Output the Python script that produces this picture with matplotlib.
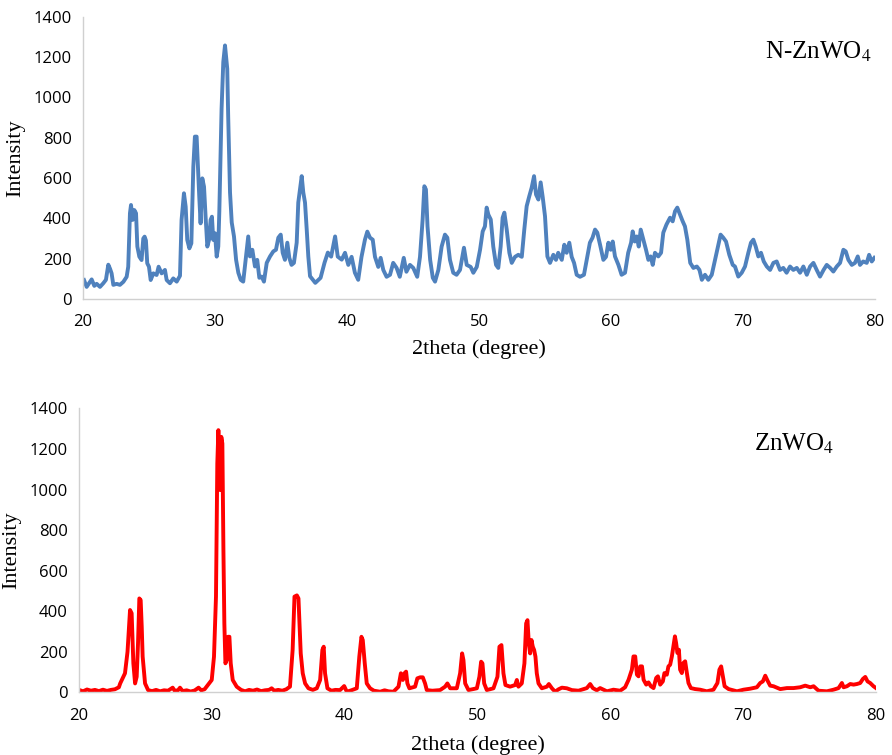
import matplotlib
matplotlib.use('Agg')
import matplotlib.pyplot as plt

# N-ZnWO4 pattern (2theta, intensity)
n_theta = [20.08, 20.28, 20.48, 20.66, 20.86, 21.04, 21.29, 21.54, 21.74, 21.92,
           22.05, 22.17, 22.3, 22.55, 22.8, 23.06, 23.31, 23.43, 23.56, 23.64,
           23.76, 23.89, 24.02, 24.12, 24.27, 24.44, 24.57, 24.67, 24.77, 24.87,
           25.0, 25.13, 25.33, 25.58, 25.73, 25.96, 26.21, 26.34, 26.59, 26.84,
           27.1, 27.35, 27.47, 27.65, 27.78, 27.9, 28.06, 28.21, 28.36, 28.48,
           28.61, 28.71, 28.81, 28.91, 29.04, 29.17, 29.29, 29.42, 29.55, 29.67,
           29.77, 29.87, 30.0, 30.13, 30.25,
           30.33, 30.5, 30.63, 30.76, 30.93, 31.0, 31.14, 31.27, 31.44, 31.6,
           31.77, 31.95, 32.14, 32.35, 32.52, 32.65, 32.83, 33.03, 33.2, 33.36,
           33.54, 33.71, 33.92, 34.17, 34.42, 34.62, 34.8, 34.98, 35.13, 35.3,
           35.48, 35.63, 35.8, 35.98, 36.19, 36.31, 36.44, 36.57, 36.69, 36.82,
           36.95, 37.07, 37.2, 37.6, 38.0, 38.3, 38.55, 38.8, 39.1, 39.3, 39.6,
           39.85, 40.1, 40.35, 40.6, 40.85, 41.1, 41.36, 41.54, 41.74, 41.95,
           42.12, 42.37, 42.55, 42.75, 43.0, 43.26, 43.5, 43.76, 44.0, 44.3,
           44.5, 44.77, 45.02, 45.32, 45.53, 45.73, 45.86, 45.98, 46.1, 46.3,
           46.5, 46.67, 46.92, 47.17, 47.42, 47.6, 47.8, 48.05, 48.3, 48.56,
           48.86, 49.07, 49.37, 49.57,
           49.83, 50.08, 50.28, 50.45, 50.58, 50.71, 50.89, 51.08, 51.29, 51.46,
           51.64, 51.79, 51.92, 52.1, 52.3, 52.48, 52.73, 52.98, 53.24, 53.43,
           53.61, 53.81, 53.99, 54.17, 54.32, 54.5, 54.67, 54.83, 55.0, 55.18,
           55.38, 55.63, 55.83, 56.0, 56.27, 56.46, 56.64, 56.84, 57.02, 57.2,
           57.4, 57.65, 57.95, 58.16, 58.4, 58.6, 58.79, 58.96,
           59.17, 59.42, 59.62, 59.8, 59.98, 60.13, 60.3, 60.56, 60.8, 61.06,
           61.3, 61.52, 61.64, 61.8, 61.95, 62.1, 62.25, 62.45, 62.65, 62.83,
           63.0, 63.16, 63.33, 63.58, 63.79, 63.96, 64.2, 64.47, 64.67, 64.85,
           65.02, 65.23, 65.43, 65.6, 65.78, 66.0, 66.24, 66.5, 66.7, 66.88,
           67.12, 67.37, 67.63, 67.88, 68.13, 68.3, 68.5, 68.71, 68.96, 69.22,
           69.39, 69.64, 69.9, 70.15, 70.4, 70.6, 70.78, 70.96, 71.16, 71.36,
           71.57, 71.8, 72.05, 72.3, 72.55, 72.8, 73.05, 73.3, 73.56, 73.81,
           74.07, 74.32, 74.57, 74.83, 75.08, 75.33, 75.58, 75.83, 76.1, 76.34,
           76.6, 76.84, 77.1, 77.35, 77.6, 77.78, 77.98, 78.24, 78.48, 78.69,
           78.86, 79.1, 79.37, 79.55, 79.75, 79.95]
n_counts = [94, 60, 80, 97, 65, 75, 60, 78, 95, 170,
            150, 127, 70, 75, 70, 85, 110, 160, 425, 466,
            392, 441, 425, 260, 210, 193, 300, 309, 290, 177,
            160, 94, 127, 119, 160, 127, 144, 94, 78, 102,
            86, 115, 392, 524, 458, 293, 251, 276, 656, 805,
            805, 656, 507, 375, 598, 557, 408, 260, 293, 392,
            408, 293, 326, 210, 260,
            435, 942, 1175, 1257, 1141, 908, 528, 379, 310, 194,
            130, 95, 86, 211, 310, 211, 244, 161, 194, 105,
            111, 86, 179, 211, 236, 244, 304, 319, 229, 194,
            279, 204, 169, 179, 279, 478, 543, 609, 528, 478,
            344, 211, 113, 80, 105, 180, 230, 210, 310, 210, 195,
            229, 169, 209, 130, 95, 209, 294, 334, 304, 294,
            209, 159, 204, 144, 110, 120, 179, 154, 110, 204,
            135, 169, 154, 110, 209, 394, 559, 543, 360, 194,
            105, 86, 144, 260, 319, 304, 194, 130, 120, 144,
            254, 169, 159, 130,
            159, 244, 335, 360, 453, 418, 394, 260, 169, 154,
            260, 403, 428, 344, 229, 179, 209, 219, 209, 344,
            460, 510, 552, 609, 518, 493, 578, 503, 410, 211,
            179, 219, 194, 229, 194, 269, 229, 279, 209, 179,
            120, 110, 120, 194, 279, 304, 344, 329,
            269, 194, 209, 279, 244, 285, 211, 169, 120, 130,
            229, 279, 335, 285, 310, 260, 344, 294, 244, 194,
            211, 169, 229, 211, 229, 329, 369, 403, 385, 435,
            453, 418, 385, 360, 294, 179, 154, 161, 144, 95,
            120, 95, 120, 194, 269, 319, 304, 285, 219, 169,
            161, 111, 130, 161, 229, 279, 294, 260, 211, 229,
            186, 161, 144, 179, 186, 144, 154, 130, 161, 144,
            154, 130, 161, 120, 161, 179, 144, 111, 144, 169,
            154, 136, 161, 179, 244, 236, 194, 169, 179, 211,
            169, 186, 179, 219, 186, 204]

# ZnWO4 pattern (2theta, intensity)
z_theta = [20.0, 20.3, 20.6, 20.9, 21.2, 21.5, 21.8, 22.1, 22.4, 22.7,
           23.0, 23.1, 23.46, 23.65, 23.84, 23.96, 24.09, 24.22, 24.34, 24.44,
           24.54, 24.64, 24.72, 24.79, 24.97, 25.2, 25.5, 25.8, 26.1, 26.4,
           26.7, 27.05, 27.2, 27.45, 27.6, 27.8, 28.1, 28.4, 28.7, 29.0,
           29.2, 29.45, 29.6, 29.99, 30.16, 30.31, 30.41, 30.49, 30.56, 30.64,
           30.71, 30.79, 30.87, 30.94, 31.02, 31.12, 31.22, 31.32, 31.42, 31.57,
           31.87, 32.2, 32.5, 32.8, 33.1, 33.4, 33.7, 34.0, 34.3, 34.5,
           34.7, 35.0, 35.3, 35.6, 35.88, 36.08, 36.22, 36.4, 36.52, 36.69,
           36.84, 37.02, 37.27, 37.6, 37.9, 38.15, 38.32, 38.42, 38.52, 38.7,
           39.0, 39.3, 39.65, 39.96, 40.16, 40.5, 40.91, 41.1, 41.26, 41.36,
           41.51, 41.66, 41.91, 42.2, 42.67, 43.0, 43.3, 43.67, 44.05, 44.23,
           44.38, 44.5, 44.62, 44.72, 44.87, 45.3, 45.47, 45.68, 45.88, 46.05,
           46.18, 46.6, 47.18, 47.56, 47.73, 47.94, 48.44, 48.69, 48.84, 48.94,
           49.07, 49.32, 49.95, 50.14, 50.27, 50.37, 50.5, 50.7, 51.2, 51.5,
           51.65, 51.8, 51.95, 52.1, 52.45, 52.83, 52.96, 53.08, 53.33, 53.53,
           53.66, 53.76, 53.86, 53.96, 54.06, 54.16, 54.26, 54.36, 54.46, 54.59,
           54.84, 55.22, 55.37, 55.6, 55.84, 56.1, 56.35, 56.72, 57.1, 57.6,
           58.23, 58.48, 58.68, 58.98, 59.23, 59.74, 60.23, 60.74, 61.11, 61.37,
           61.62, 61.74, 61.87, 62.0, 62.12, 62.25, 62.38, 62.5, 62.7, 62.87,
           63.05, 63.25, 63.45, 63.58, 63.75, 63.95, 64.07, 64.25, 64.37, 64.5,
           64.63, 64.75, 64.86, 64.95, 65.05, 65.16, 65.25, 65.38, 65.5, 65.63,
           65.76, 65.88, 66.06, 66.39, 66.76, 67.26, 67.76, 68.06, 68.21, 68.34,
           68.47, 68.6, 68.9, 69.53, 70.02, 70.53, 71.03, 71.28, 71.48, 71.66,
           71.83, 72.03, 72.28, 72.79, 73.29, 73.79, 74.29, 74.67, 75.05, 75.3,
           75.67, 76.3, 76.8, 77.18, 77.43, 77.56, 77.81, 78.06, 78.31, 78.56,
           78.81, 79.01, 79.19, 79.36, 79.56, 79.81, 80.0]
z_counts = [12, 5, 14, 8, 12, 6, 13, 7, 12, 15,
            25, 44, 94, 200, 406, 390, 143, 44, 77, 241,
            463, 455, 324, 176, 44, 11, 6, 12, 5, 10,
            8, 23, 8, 10, 23, 6, 10, 4, 9, 23,
            10, 15, 28, 61, 176, 472, 1129, 1293, 1162, 997,
            1260, 1227, 701, 340, 143, 159, 274, 274, 143, 61,
            28, 12, 5, 12, 8, 14, 6, 10, 12, 20,
            8, 12, 8, 15, 28, 209, 472, 478, 463, 192,
            94, 44, 20, 12, 20, 61, 209, 225, 94, 20,
            8, 12, 11, 31, 3, 10, 20, 176, 274, 258,
            143, 44, 20, 8, 3, 10, 5, 3, 28, 94,
            61, 94, 102, 44, 20, 28, 69, 74, 74, 44,
            11, 8, 11, 28, 44, 20, 20, 94, 192, 159,
            44, 11, 20, 77, 151, 143, 44, 11, 20, 77,
            225, 233, 94, 36, 28, 36, 61, 28, 44, 143,
            340, 356, 241, 192, 258, 225, 209, 176, 94, 44,
            20, 28, 41, 20, 3, 15, 23, 20, 11, 8,
            21, 41, 21, 10, 21, 5, 13, 8, 25, 62,
            112, 177, 177, 87, 79, 128, 128, 62, 38, 49,
            30, 21, 71, 79, 38, 54, 95, 87, 128, 136,
            177, 227, 276, 243, 194, 210, 112, 95, 145, 153,
            95, 46, 21, 16, 13, 5, 13, 46, 112, 128,
            79, 30, 16, 5, 13, 18, 25, 46, 54, 82,
            58, 33, 30, 16, 21, 21, 25, 33, 25, 30,
            8, 5, 13, 21, 46, 25, 30, 41, 38, 41,
            46, 66, 76, 54, 46, 30, 21]

plt.rcParams['mathtext.fontset'] = 'stix'

fig = plt.figure(figsize=(8.92, 7.55), dpi=100)
ax1 = fig.add_axes([0.093, 0.604, 0.888, 0.374])
ax2 = fig.add_axes([0.0886, 0.083, 0.8935, 0.376])

# axis, x, y, colour, sample name, name x position, xlabel pad
panels = [
    (ax1, n_theta, n_counts, '#4f81bd', 'N-ZnWO$_4$', 0.861, 6.5),
    (ax2, z_theta, z_counts, '#ff0000', 'ZnWO$_4$', 0.847, 8.5),
]

for ax, x, y, color, name, tx, xpad in panels:
    ax.plot(x, y, color=color, linewidth=2.8, solid_joinstyle='round')
    ax.set_xlim(20, 80)
    ax.set_ylim(0, 1400)
    ax.set_xticks(range(20, 81, 10))
    ax.set_yticks(range(0, 1401, 200))
    ax.tick_params(length=0, labelsize=12)
    ax.tick_params(axis='x', pad=11)
    ax.tick_params(axis='y', pad=8)
    for lab in ax.get_xticklabels() + ax.get_yticklabels():
        lab.set_fontfamily('Open Sans')
    for side in ['top', 'right']:
        ax.spines[side].set_visible(False)
    for side in ['left', 'bottom']:
        ax.spines[side].set_color('#d0d0d0')
        ax.spines[side].set_linewidth(1.0)
    ax.set_xlabel('2theta (degree)', family='Liberation Serif', fontsize=16, labelpad=xpad)
    ax.set_ylabel('Intensity', family='Liberation Serif', fontsize=16, labelpad=6)
    ax.text(tx, 0.876, name, transform=ax.transAxes, family='Liberation Serif',
            fontsize=18, va='center', ha='left')

plt.savefig('out.png', dpi=100)
plt.close()
